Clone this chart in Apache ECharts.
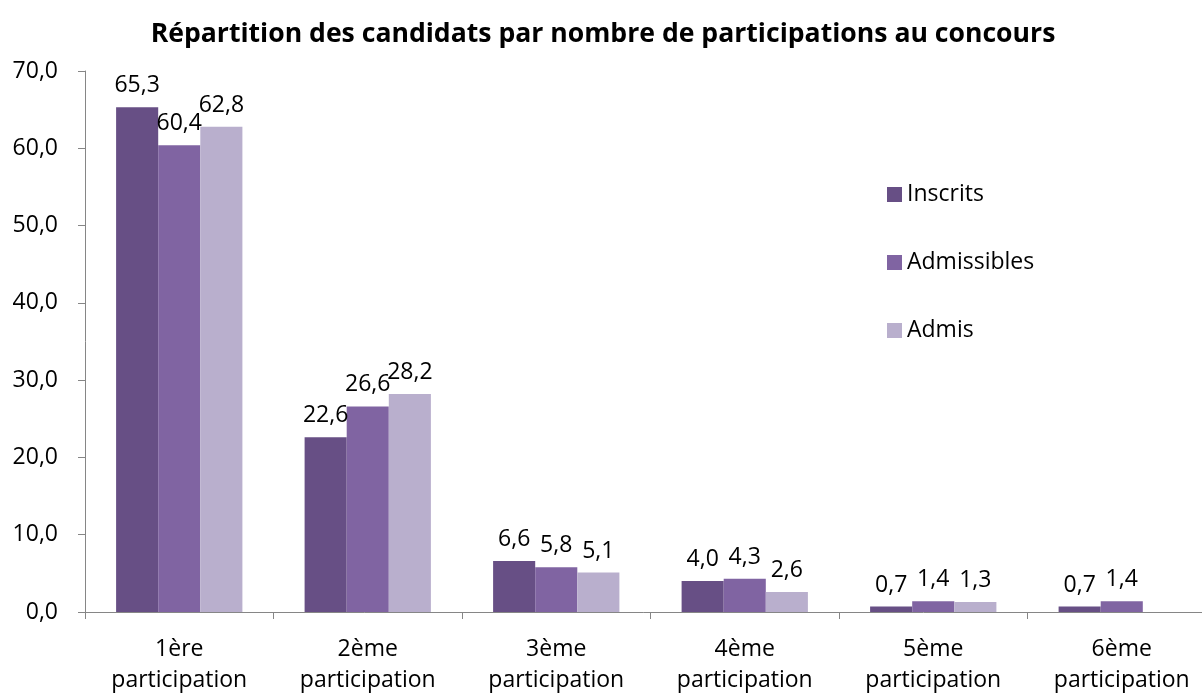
<!DOCTYPE html>
<html>
<head>
<meta charset="utf-8">
<script src="https://cdn.jsdelivr.net/npm/echarts@6/dist/echarts.min.js"></script>
<style>html,body{margin:0;padding:0;background:#fff;}#c{width:1202px;height:693px;}</style>
</head>
<body>
<div id="c"></div>
<script>
const categories = ['1ère\nparticipation', '2ème\nparticipation', '3ème\nparticipation', '4ème\nparticipation', '5ème\nparticipation', '6ème\nparticipation'];
const inscrits = [65.3, 22.6, 6.6, 4.0, 0.7, 0.7];
const admissibles = [60.4, 26.6, 5.8, 4.3, 1.4, 1.4];
const admis = [62.8, 28.2, 5.1, 2.6, 1.3, null];
const seriesNames = ['Inscrits', 'Admissibles', 'Admis'];
const yTicks = { min: 0, max: 70, interval: 10 };

const FONT = 'Open Sans';
const FS = 23;
const fmt = v => (v == null ? '' : Number(v).toFixed(1).replace('.', ','));
const colors = ['#674F85', '#8064A2', '#B9AFCD'];

const chart = echarts.init(document.getElementById('c'));
const mk = (name, data, color) => ({
  name, type: 'bar', data,
  barGap: '0%', barCategoryGap: '33%',
  itemStyle: { color },
  label: {
    show: true, position: 'top', distance: 10,
    color: '#000', fontFamily: FONT, fontSize: FS,
    formatter: p => fmt(p.value)
  }
});
chart.setOption({
  animation: false,
  title: {
    text: 'Répartition des candidats par nombre de participations au concours',
    left: 598, textAlign: 'center', top: 16,
    textStyle: { fontFamily: FONT, fontWeight: 'bold', fontSize: 26.6, color: '#000' }
  },
  legend: {
    orient: 'vertical', left: 882, top: 178,
    itemWidth: 15, itemHeight: 15, itemGap: 45, icon: 'rect',
    textStyle: { fontFamily: FONT, fontSize: FS, color: '#000', lineHeight: 23, padding: [0, 0, 0, 0] },
    data: seriesNames
  },
  grid: { left: 85, right: -14, top: 71, bottom: 81, outerBoundsMode: 'none' },
  xAxis: {
    type: 'category', data: categories,
    axisLine: { lineStyle: { color: '#868686', width: 1 } },
    axisTick: { show: true, length: 7, lineStyle: { color: '#868686' } },
    axisLabel: { color: '#000', fontFamily: FONT, fontSize: FS, lineHeight: 31, margin: 22, interval: 0 }
  },
  yAxis: {
    type: 'value', min: yTicks.min, max: yTicks.max, interval: yTicks.interval,
    splitLine: { show: false },
    axisLine: { show: true, lineStyle: { color: '#868686', width: 1 } },
    axisTick: { show: true, length: 7, lineStyle: { color: '#868686' } },
    axisLabel: { color: '#000', fontFamily: FONT, fontSize: FS, margin: 27, formatter: v => fmt(v) }
  },
  series: [
    mk(seriesNames[0], inscrits, colors[0]),
    mk(seriesNames[1], admissibles, colors[1]),
    mk(seriesNames[2], admis, colors[2])
  ]
});
</script>
</body>
</html>
